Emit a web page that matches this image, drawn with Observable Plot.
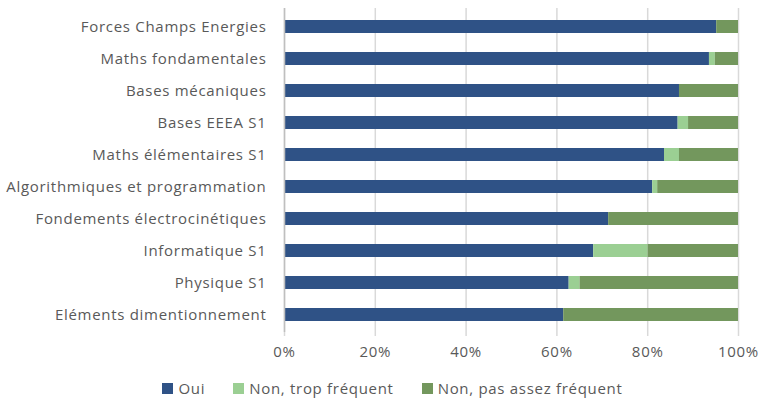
<!DOCTYPE html>
<html>
<head>
<meta charset="utf-8">
<script src="https://cdn.jsdelivr.net/npm/d3@7"></script>
<script src="https://cdn.jsdelivr.net/npm/@observablehq/plot@0.6"></script>
<style>
  html, body { margin: 0; padding: 0; background: #fff; }
  body { width: 775px; height: 406px; overflow: hidden; font-family: "Open Sans", "Liberation Sans", sans-serif; }
  svg text { letter-spacing: 0.7px; }
  #legend { display: flex; justify-content: center; align-items: center; gap: 28px; font-size: 15px; letter-spacing: 0.7px; color: #595959; margin-top: 6px; padding-left: 10px; }
  #legend .item { display: flex; align-items: center; }
  #legend .sw { width: 11px; height: 11px; margin-right: 5px; }
</style>
</head>
<body>
<div id="chart"></div>
<div id="legend"></div>
<script>
const categories = [
  "Forces Champs Energies",
  "Maths fondamentales",
  "Bases mécaniques",
  "Bases EEEA S1",
  "Maths élémentaires S1",
  "Algorithmiques et programmation",
  "Fondements électrocinétiques",
  "Informatique S1",
  "Physique S1",
  "Eléments dimentionnement"
];
const seriesNames = ["Oui", "Non, trop fréquent", "Non, pas assez fréquent"];
const oui       = [95.2, 93.6, 87.0, 86.7, 83.7, 81.1, 71.4, 68.1, 62.7, 61.5];
const tropFreq  = [0.0, 1.3, 0.0, 2.3, 3.3, 1.1, 0.0, 12.0, 2.4, 0.0];
const pasAssez  = [4.8, 5.1, 13.0, 11.0, 13.0, 17.8, 28.6, 19.9, 34.9, 38.5];
const colors = ["#2F5286", "#9BCF93", "#73975D"];
const xTicks = [0, 20, 40, 60, 80, 100];

const seriesValues = [oui, tropFreq, pasAssez];
const data = [];
categories.forEach((c, i) => {
  seriesNames.forEach((s, j) => {
    data.push({category: c, series: s, value: seriesValues[j][i]});
  });
});

const plot = Plot.plot({
  width: 775,
  height: 372,
  marginLeft: 284,
  marginRight: 37,
  marginTop: 8,
  marginBottom: 40,
  style: {fontFamily: "'Open Sans', sans-serif", fontSize: "15px", color: "#595959", background: "#fff"},
  x: {domain: [0, 100], ticks: xTicks, tickFormat: d => d + "%", label: null},
  y: {domain: categories, paddingInner: 0.6, paddingOuter: 0.3, label: null},
  color: {domain: seriesNames, range: colors},
  marks: [
    Plot.gridX(xTicks, {stroke: "#D9D9D9", strokeWidth: 1.5, strokeOpacity: 1}),
    Plot.axisX({ticks: xTicks, tickFormat: d => d + "%", tickSize: 4, tickPadding: 10, stroke: "#D9D9D9", strokeWidth: 1.5, fontSize: 15, fill: "#595959", label: null}),
    Plot.axisY({tickSize: 0, tickPadding: 18, fontSize: 15, fill: "#595959", label: null}),
    Plot.barX(data, Plot.stackX({x: "value", y: "category", fill: "series", order: seriesNames})),
    Plot.ruleX([0], {stroke: "#BFBFBF", strokeWidth: 1.5})
  ]
});
document.getElementById("chart").appendChild(plot);

const legend = document.getElementById("legend");
seriesNames.forEach((s, j) => {
  const item = document.createElement("div");
  item.className = "item";
  const sw = document.createElement("span");
  sw.className = "sw";
  sw.style.background = colors[j];
  const t = document.createElement("span");
  t.textContent = s;
  item.appendChild(sw);
  item.appendChild(t);
  legend.appendChild(item);
});
</script>
</body>
</html>
